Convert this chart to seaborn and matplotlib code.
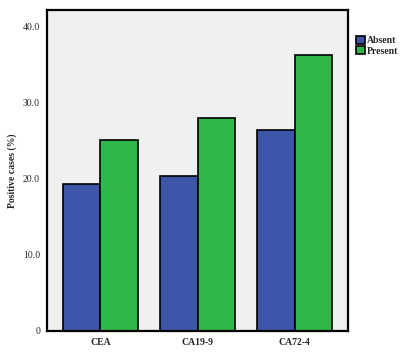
import pandas as pd
import matplotlib
matplotlib.use("Agg")
import matplotlib.pyplot as plt
import seaborn as sns

# Datos
marcadores = ["CEA", "CA19-9", "CA72-4"]
ausente = [19.3, 20.3, 26.3]
presente = [25.1, 28.0, 36.2]
yticks = [0, 10, 20, 30, 40]
ytick_labels = ["0", "10.0", "20.0", "30.0", "40.0"]

df = pd.DataFrame({
    "marker": marcadores * 2,
    "group": ["Absent"] * 3 + ["Present"] * 3,
    "value": ausente + presente,
})

sns.set_style("white")
plt.rcParams["font.family"] = ["Liberation Serif", "DejaVu Serif"]

fig = plt.figure(figsize=(4.04, 3.54), dpi=100)
ax = fig.add_axes([47 / 404, 1 - 331 / 354, 301 / 404, 321 / 354])
ax.set_facecolor("#f0f0f0")

sns.barplot(
    data=df, x="marker", y="value", hue="group",
    palette={"Absent": "#3e56aa", "Present": "#2eb84a"}, saturation=1,
    width=0.78, gap=0, edgecolor="black", linewidth=1.2,
    ax=ax, legend=True,
)

ax.set_xlim(-0.55, 2.55)
ax.set_ylim(0, 42.1)
ax.set_yticks(yticks)
ax.set_yticklabels(ytick_labels, fontsize=7)
ax.set_xticks(range(len(marcadores)))
ax.set_xticklabels(marcadores, fontsize=7, fontweight="bold")
ax.set_xlabel("")
ax.set_ylabel("Positive cases (%)", fontsize=7, fontweight="bold")
ax.tick_params(axis="both", direction="out", length=4, width=0.8, color="black", pad=1)
for s in ax.spines.values():
    s.set_visible(True)
    s.set_color("black")
    s.set_linewidth(1.6)

handles, labels = ax.get_legend_handles_labels()
ax.get_legend().remove()
fig.legend(
    handles, labels, loc="upper left", bbox_to_anchor=(356 / 404, 1 - 36 / 354),
    frameon=False, prop={"size": 7, "weight": "bold"},
    handlelength=0.9, handleheight=0.9, handletextpad=0.2, labelspacing=0.1,
    borderaxespad=0, borderpad=0,
)

fig.savefig("out.png", dpi=100)
